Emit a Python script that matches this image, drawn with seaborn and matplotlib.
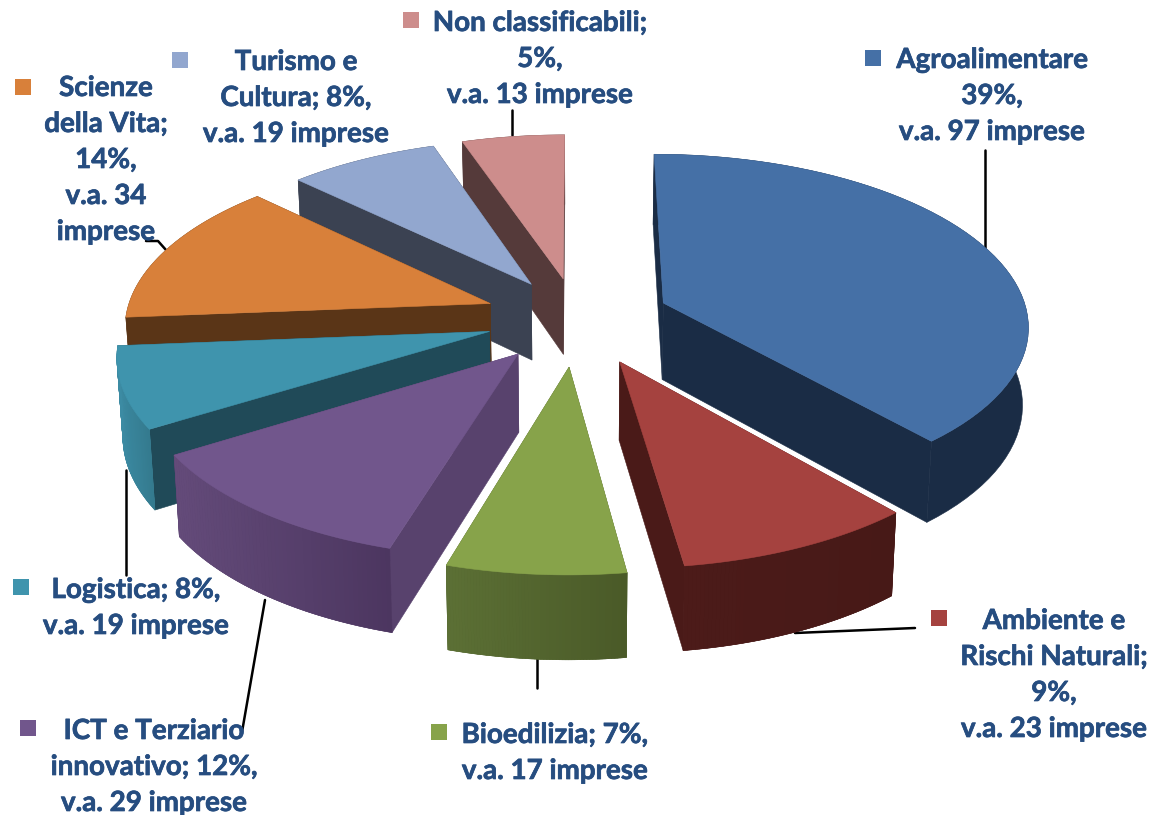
import numpy as np
import matplotlib
matplotlib.use("Agg")
import matplotlib.pyplot as plt
import matplotlib.patheffects as pe
import seaborn as sns

# data
categories = ['Agroalimentare', 'Ambiente e Rischi Naturali', 'Bioedilizia', 'ICT e Terziario innovativo',
              'Logistica', 'Scienze della Vita', 'Turismo e Cultura', 'Non classificabili']
imprese = [97, 23, 17, 29, 19, 34, 19, 13]
labels = [['Agroalimentare', '39%,', 'v.a. 97 imprese'],
          ['Ambiente e', 'Rischi Naturali;', '9%,', 'v.a. 23 imprese'],
          ['Bioedilizia; 7%,', 'v.a. 17 imprese'],
          ['ICT e Terziario', 'innovativo; 12%,', 'v.a. 29 imprese'],
          ['Logistica; 8%,', 'v.a. 19 imprese'],
          ['Scienze', 'della Vita;', '14%,', 'v.a. 34', 'imprese'],
          ['Turismo e', 'Cultura; 8%,', 'v.a. 19 imprese'],
          ['Non classificabili;', '5%,', 'v.a. 13 imprese']]

# style
top_colors = ['#4570a6', '#a5423f', '#87a34a', '#71568c', '#3f94ad', '#d8803a', '#92a7cf', '#cd8d8c']
radial_colors = ['#1a2c45', '#4a1a18', '#4f6029', '#58426d', '#204a58', '#5a3517', '#3b4252', '#553a3a']
arc_left = ['#1a2c45', '#4c1b19', '#5c7035', '#644b7a', '#3c8ba3', '#5a3517', '#3b4252', '#553a3a']
arc_right = ['#1a2c45', '#471917', '#4a5a28', '#4c3660', '#347a8e', '#5a3517', '#3b4252', '#553a3a']
explode = [0.255, 0.275, 0.28, 0.26, 0.25, 0.255, 0.24, 0.24]
text_color = '#264d80'

# label layout: centre x, first line y, key x, key y
label_x = [992, 1054, 555, 154, 136, 106, 296, 540]
label_y = [60, 621, 735, 731, 590, 88, 62, 23]
key_x = [873, 939, 439, 28, 21, 23, 180, 411]
key_y = [58, 618, 732, 728, 587, 87, 60, 20]
leaders = [[(985, 150), (985, 248)], [(915, 628), (795, 633)], [(537, 688), (537, 655)],
           [(242, 732), (265, 600)], [(126, 575), (126, 470)],
           [(146, 241), (158, 241), (166, 250)], [(512, 110), (512, 135)]]

# projection of the pie plane
CX, CY, RX, RY, K, WALL = 577, 318, 365, 170, 0.12, 77


def project(u, v, bottom=False):
    s = 1 / (1 - K * v)
    x = RX * u * s
    y = RY * v * s
    if bottom:
        return CX + x * 0.987, CY + y + WALL * (1 + 0.08 * v)
    return CX + x, CY + y


def mix(c1, c2, t):
    a = np.array(matplotlib.colors.to_rgb(c1))
    b = np.array(matplotlib.colors.to_rgb(c2))
    return tuple(a + (b - a) * t)


def quad(ax, pts, color):
    xs, ys = zip(*pts)
    ax.fill(xs, ys, color=color, lw=0.4, zorder=3)


sns.set_theme(style='white')
plt.rcParams['font.family'] = ['Lato', 'DejaVu Sans']
palette = sns.color_palette(top_colors)

fig, ax = plt.subplots(figsize=(11.53, 8.15), dpi=100)
ax.set_position([0, 0, 1, 1])
ax.set_xlim(0, 1153)
ax.set_ylim(815, 0)
ax.axis('off')

for pts in leaders:
    xs, ys = zip(*pts)
    ax.plot(xs, ys, color='black', lw=1.8, zorder=2)

edges = np.cumsum([0] + imprese) / sum(imprese) * 2 * np.pi
mids = (edges[:-1] + edges[1:]) / 2

# back slices first
for i in np.argsort(-np.cos(mids)):
    a0, a1 = edges[i], edges[i + 1]
    du, dv = explode[i] * np.sin(mids[i]), -explode[i] * np.cos(mids[i])
    th = np.linspace(a0, a1, 60)
    us, vs = du + np.sin(th), dv - np.cos(th)

    # radial walls
    for j in (0, -1):
        quad(ax, [project(du, dv), project(us[j], vs[j]),
                  project(us[j], vs[j], True), project(du, dv, True)], radial_colors[i])

    # outer wall: flat base so the seams of the shaded strips do not show
    upper = [project(a, b) for a, b in zip(us, vs)]
    lower = [project(a, b, True) for a, b in zip(us, vs)]
    quad(ax, upper + lower[::-1], mix(arc_left[i], arc_right[i], 0.5))
    xs_all = [p[0] for p in upper]
    if arc_left[i] != arc_right[i]:
        for j in range(len(th) - 1):
            t = (upper[j][0] - min(xs_all)) / (max(xs_all) - min(xs_all))
            quad(ax, [upper[j], upper[j + 1], lower[j + 1], lower[j]], mix(arc_left[i], arc_right[i], t))

    # top face
    quad(ax, [project(du, dv)] + upper, palette[i])

for i, lines in enumerate(labels):
    for n, line in enumerate(lines):
        ax.text(label_x[i], label_y[i] + n * 36, line, ha='center', va='center',
                fontsize=20, fontweight='bold', color=text_color, zorder=5,
                path_effects=[pe.withStroke(linewidth=0.5, foreground=text_color)])
    ax.scatter([key_x[i]], [key_y[i]], marker='s', s=130, color=palette[i], linewidths=0, zorder=5)

fig.savefig('out.png', dpi=100)
